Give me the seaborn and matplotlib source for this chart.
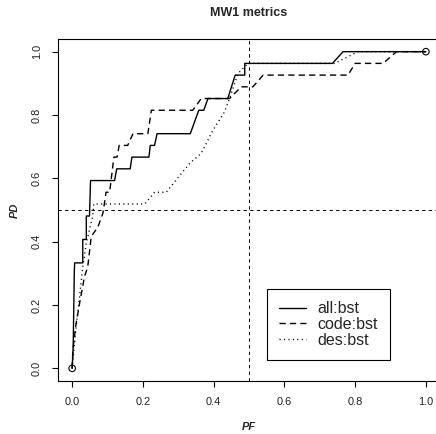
import matplotlib
matplotlib.use("Agg")
import matplotlib.pyplot as plt
import seaborn as sns
import pandas as pd

# ---- data ----
title = "MW1 metrics"
x_label = "PF"
y_label = "PD"
series_names = ["all:bst", "code:bst", "des:bst"]
tick_values = [0.0, 0.2, 0.4, 0.6, 0.8, 1.0]
tick_labels = ["0.0", "0.2", "0.4", "0.6", "0.8", "1.0"]
threshold_pf = 0.5
threshold_pd = 0.5

all_pf = [0, 0.003, 0.006, 0.007, 0.030, 0.030, 0.040, 0.040, 0.049, 0.052,
          0.120, 0.126, 0.164, 0.169, 0.217, 0.221, 0.233, 0.240, 0.334, 0.358,
          0.372, 0.384, 0.440, 0.461, 0.488, 0.488, 0.736, 0.766, 1.0]
all_pd = [0, 0.07, 0.30, 0.333, 0.333, 0.407, 0.407, 0.481, 0.481, 0.593,
          0.593, 0.630, 0.630, 0.667, 0.667, 0.704, 0.704, 0.741, 0.741, 0.815,
          0.815, 0.852, 0.852, 0.926, 0.926, 0.963, 0.963, 1.0, 1.0]

code_pf = [0, 0.002, 0.011, 0.021, 0.035, 0.044, 0.054, 0.073, 0.087, 0.096,
           0.106, 0.118, 0.127, 0.133, 0.157, 0.172, 0.214, 0.224, 0.341, 0.365,
           0.445, 0.478, 0.511, 0.540, 0.780, 0.800, 0.879, 0.917, 1.0]
code_pd = [0, 0.058, 0.14, 0.205, 0.29, 0.32, 0.416, 0.447, 0.49, 0.556,
           0.556, 0.667, 0.667, 0.704, 0.704, 0.741, 0.741, 0.815, 0.815, 0.852,
           0.852, 0.889, 0.889, 0.926, 0.926, 0.963, 0.963, 1.0, 1.0]

des_pf = [0, 0.005, 0.011, 0.021, 0.030, 0.040, 0.050, 0.058, 0.061, 0.205,
          0.233, 0.266, 0.294, 0.332, 0.365, 0.398, 0.431, 0.445, 0.469, 0.497,
          0.742, 0.808, 1.0]
des_pd = [0, 0.058, 0.13, 0.226, 0.32, 0.396, 0.443, 0.48, 0.519, 0.519,
          0.556, 0.556, 0.595, 0.647, 0.679, 0.752, 0.81, 0.852, 0.931, 0.963,
          0.963, 1.0, 1.0]

end_pf = [0.0, 1.0]
end_pd = [0.0, 1.0]

# ---- style ----
sns.set_style("ticks")
plt.rcParams["font.family"] = ["Liberation Sans", "DejaVu Sans"]
plt.rcParams["axes.linewidth"] = 0.8

fig = plt.figure(figsize=(4.36, 4.34), dpi=100)
W, H = 436, 434
ax = fig.add_axes([58 / W, 53 / H, 382 / W, 342 / H])

styles = ["-", (0, (4.5, 3.0)), (0, (0.8, 2.4))]
for name, xs, ys, ls in zip(series_names,
                            [all_pf, code_pf, des_pf],
                            [all_pd, code_pd, des_pd], styles):
    df = pd.DataFrame({"PF": xs, "PD": ys})
    sns.lineplot(data=df, x="PF", y="PD", sort=False, estimator=None,
                 color="black", linestyle=ls, linewidth=1.0, label=name, ax=ax)

sns.scatterplot(x=end_pf, y=end_pd, ax=ax, marker="o", s=22,
                facecolor="none", edgecolor="black", linewidth=0.8, zorder=5)

ax.axhline(threshold_pd, color="black", linestyle=(0, (3.4, 3.4)), linewidth=0.7)
ax.axvline(threshold_pf, color="black", linestyle=(0, (3.4, 3.4)), linewidth=0.7)

ax.set_xlim(-0.04, 1.04)
ax.set_ylim(-0.04, 1.04)
ax.set_xticks(tick_values)
ax.set_xticklabels(tick_labels)
ax.set_yticks(tick_values)
ax.set_yticklabels(tick_labels, rotation=90, va="center")
ax.tick_params(axis="both", direction="out", length=4, width=0.8,
               labelsize=7.9, pad=7.5, color="black", labelcolor="#222222")
for s in ax.spines.values():
    s.set_visible(True)
    s.set_color("black")
    s.set_linewidth(0.8)

ax.set_xlabel(x_label, fontsize=7.9, fontweight="bold", fontstyle="italic", va="center")
ax.set_ylabel(y_label, fontsize=7.9, fontweight="bold", fontstyle="italic", va="center")
ax.xaxis.set_label_coords(0.5, (381 - 427) / 342)
ax.yaxis.set_label_coords((15 - 58) / 382, 0.5)

fig.text(249 / W, 1 - 13 / H, title, ha="center", va="center",
         fontsize=9, fontweight="bold")

leg = ax.legend(loc="upper left", bbox_to_anchor=((266.7 - 58) / 382, (381 - 289.3) / 342),
                borderaxespad=0, fontsize=11.5, frameon=True, fancybox=False,
                edgecolor="black", framealpha=1, handlelength=1.7,
                handletextpad=0.75, labelspacing=0.05, borderpad=0.75)
leg.get_frame().set_linewidth(0.8)

fig.savefig("out.png", dpi=100)
